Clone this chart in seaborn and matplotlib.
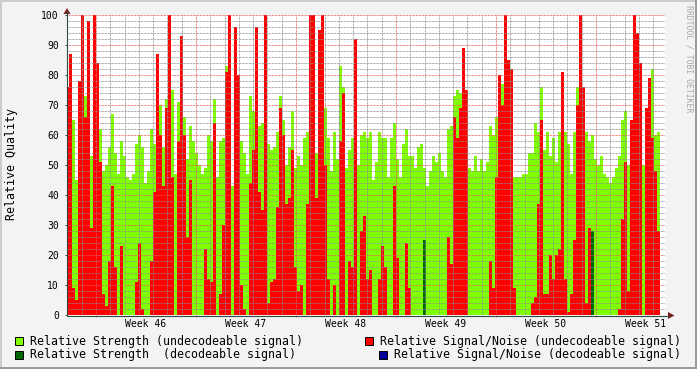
import numpy as np
import pandas as pd
import matplotlib
matplotlib.use("Agg")
import matplotlib.pyplot as plt
import seaborn as sns
from matplotlib.patches import Rectangle, Polygon
from matplotlib.lines import Line2D

sns.set_theme(style="white")
plt.rcParams["font.family"] = ["DejaVu Sans Mono", "DejaVu Sans"]

# ---------------- data ----------------
# Relative Strength (undecodeable signal), one sample every ~5 h
strength_undec = [
    71, 83, 65, 45, 60, 80, 73, 72, 53, 76, 59, 62, 48, 50, 56, 67, 54, 47, 58, 53, 46, 45, 47, 57, 60, 56, 44, 48, 62, 57, 79, 70, 56,
    72, 76, 75, 47, 71, 72, 66, 52, 63, 58, 54, 50, 47, 49, 60, 58, 72, 46, 58, 59, 83, 60, 43, 54, 60, 58, 54, 47, 73, 68, 59, 63, 64,
    74, 57, 55, 56, 61, 73, 65, 50, 56, 68, 49, 53, 50, 59, 61, 64, 60, 54, 56, 73, 69, 59, 48, 61, 52, 83, 76, 49, 55, 59, 58, 50, 60,
    61, 59, 61, 45, 51, 61, 59, 59, 46, 59, 64, 52, 46, 57, 62, 53, 53, 49, 56, 57, 49, 43, 48, 53, 51, 54, 48, 46, 62, 63, 73, 75, 74,
    76, 51, 49, 48, 53, 48, 52, 48, 51, 63, 60, 66, 70, 77, 75, 74, 76, 46, 46, 46, 47, 47, 54, 54, 64, 61, 76, 55, 61, 53, 59, 51, 61,
    62, 61, 57, 47, 61, 76, 70, 60, 61, 58, 60, 52, 50, 53, 47, 46, 44, 46, 49, 53, 65, 68, 50, 61, 73, 80, 52, 50, 67, 77, 82, 60, 61,
]
# Relative Signal/Noise (undecodeable signal)
snr_undec = [
    76, 87, 9, 5, 78, 100, 66, 98, 29, 100, 84, 51, 7, 3, 18, 43, 16, 0, 23, 0, 0, 0, 0, 11, 24, 2, 0, 0, 18, 41, 87, 60, 43,
    69, 100, 46, 0, 58, 93, 60, 26, 45, 0, 0, 0, 0, 22, 12, 11, 64, 0, 7, 30, 81, 100, 0, 96, 80, 10, 2, 0, 44, 55, 96, 41, 35,
    100, 4, 11, 12, 36, 69, 60, 37, 39, 55, 16, 8, 10, 0, 37, 100, 100, 39, 95, 100, 50, 12, 0, 10, 0, 58, 74, 0, 18, 16, 92, 0, 28,
    33, 12, 15, 0, 0, 12, 23, 16, 0, 0, 43, 19, 0, 0, 24, 9, 0, 0, 0, 0, 0, 0, 0, 0, 0, 0, 0, 0, 26, 17, 66, 59, 69,
    89, 75, 0, 0, 0, 0, 0, 0, 0, 18, 9, 46, 80, 70, 100, 85, 82, 9, 0, 0, 0, 0, 0, 4, 6, 37, 65, 7, 7, 20, 12, 20, 22,
    81, 12, 1, 7, 25, 70, 100, 76, 4, 29, 7, 0, 0, 0, 0, 0, 0, 0, 0, 2, 32, 51, 8, 65, 100, 94, 84, 0, 69, 79, 59, 48, 28,
]
# Relative Strength (decodeable signal): only a couple of samples
dec_strength_samples = [119, 175]
dec_strength_values = [25, 28]

week_labels = ["Week 46", "Week 47", "Week 48", "Week 49", "Week 50", "Week 51"]
legend_labels = [
    "Relative Strength (undecodeable signal)",
    "Relative Strength  (decodeable signal)",
    "Relative Signal/Noise (undecodeable signal)",
    "Relative Signal/Noise (decodeable signal)",
]

C_STR = "#80FF00"
C_STR_DEC = "#006600"
C_SNR = "#FF0000"
C_SNR_DEC = "#000099"

STEP = 0.21     # days between samples
T0 = -1.995     # first sample (days from start of Week 46)
n = len(strength_undec)
t = T0 + STEP * np.arange(n)
dec_strength = np.zeros(n)
dec_strength[dec_strength_samples] = dec_strength_values

df = pd.DataFrame({"t": t, "strength": strength_undec, "snr": snr_undec,
                   "dec": dec_strength})

# ---------------- figure ----------------
W, H = 697, 369
fig = plt.figure(figsize=(W / 100, H / 100), dpi=100)
fig.patch.set_facecolor("#F3F3F3")

def fx(px):
    return px / W

def fy(py):
    return 1 - py / H

L, R_, T, B = 67, 665, 15, 315
ax = fig.add_axes([fx(L), fy(B), (R_ - L) / W, (B - T) / H])
ax.set_facecolor("white")

for col, c in [("strength", C_STR), ("snr", C_SNR), ("dec", C_STR_DEC)]:
    sns.barplot(data=df, x="t", y=col, native_scale=True, color=c,
                saturation=1, width=1.0, errorbar=None, linewidth=0,
                edgecolor="none", ax=ax)
for p in ax.patches:
    p.set_antialiased(False)
    p.set_edgecolor("none")
    p.set_linewidth(0)

ax.set_xlabel("")
ax.set_ylabel("")
ax.set_xlim((L - 96) * 0.07, (R_ - 96) * 0.07)
ax.set_ylim(0, 100)

for s in ax.spines.values():
    s.set_visible(False)

# grid
week_bounds = [0, 7, 14, 21, 28, 35]
days = [d for d in range(-2, 40) if d % 7 != 0]
ax.set_xticks(week_bounds)
ax.set_xticklabels([])
ax.set_xticks(days, minor=True)
ax.set_yticks(range(0, 101, 10))
ax.set_yticks([v for v in range(2, 100, 2) if v % 10], minor=True)
dot = (0, (0.72, 0.72))
ax.grid(which="major", color=(0.92, 0.35, 0.35, 0.5), linestyle=dot, linewidth=0.72)
ax.grid(which="minor", color=(0.55, 0.55, 0.55, 0.28), linestyle=dot, linewidth=0.72)
ax.set_axisbelow(False)

ax.tick_params(axis="y", which="major", length=1.5, width=0.72, color="#2C4D43",
               pad=4.3, labelsize=7, labelcolor="black", left=True)
ax.tick_params(axis="y", which="minor", length=0)
ax.tick_params(axis="x", which="major", length=1.5, width=0.72,
               color=(0.95, 0.45, 0.45), bottom=True)
ax.tick_params(axis="x", which="minor", length=0)

xt = ax.get_xaxis_transform()
for k, lab in enumerate(week_labels):
    ax.text(3.5 + 7 * k, -9 / 300, lab, transform=xt, ha="center", va="center",
            fontsize=7, color="black")

# axis lines and arrows
axis_c = "#2C4D43"
fig.add_artist(Line2D([fx(L), fx(L)], [fy(B), fy(11)], color=axis_c, lw=0.8))
fig.add_artist(Line2D([fx(L), fx(670)], [fy(B + 0.5), fy(B + 0.5)], color=axis_c, lw=0.8))
arrow_c = "#7F1F1F"
fig.add_artist(Polygon([[fx(L - 3.5), fy(14)], [fx(L + 3.5), fy(14)], [fx(L), fy(8)]],
                       closed=True, facecolor=arrow_c, edgecolor="none",
                       transform=fig.transFigure))
fig.add_artist(Polygon([[fx(668), fy(B - 3)], [fx(668), fy(B + 4)], [fx(674.5), fy(B + 0.5)]],
                       closed=True, facecolor=arrow_c, edgecolor="none",
                       transform=fig.transFigure))

# y label and watermark
fig.text(fx(12), fy(164), "Relative Quality", rotation=90, ha="center", va="center",
         fontsize=8.4, color="black")
fig.text(fx(689), fy(59), "RRDTOOL / TOBI OETIKER", rotation=270, ha="center",
         va="center", fontsize=5.9, color="#A8A8A8")

# legend
entries = [
    (15, 341, C_STR, legend_labels[0]),
    (15, 354.5, C_STR_DEC, legend_labels[1]),
    (365, 341, C_SNR, legend_labels[2]),
    (379, 354.5, C_SNR_DEC, legend_labels[3]),
]
for bx, cy, c, lab in entries:
    fig.add_artist(Rectangle((fx(bx), fy(cy + 4)), 8 / W, 8 / H, transform=fig.transFigure,
                             facecolor=c, edgecolor="black", linewidth=0.7))
    fig.text(fx(bx + 15), fy(cy), lab, ha="left", va="center", fontsize=8.4, color="black")

# canvas frame
fig.add_artist(Line2D([0, 1], [fy(0.5), fy(0.5)], color="#CBCBCB", lw=1.4))
fig.add_artist(Line2D([fx(0.5), fx(0.5)], [0, 1], color="#CBCBCB", lw=1.4))
fig.add_artist(Line2D([0, 1], [fy(H - 1), fy(H - 1)], color="#999999", lw=1.4))
fig.add_artist(Line2D([fx(W - 1), fx(W - 1)], [0, 1], color="#999999", lw=1.4))

fig.savefig("out.png", dpi=100, facecolor=fig.get_facecolor())
